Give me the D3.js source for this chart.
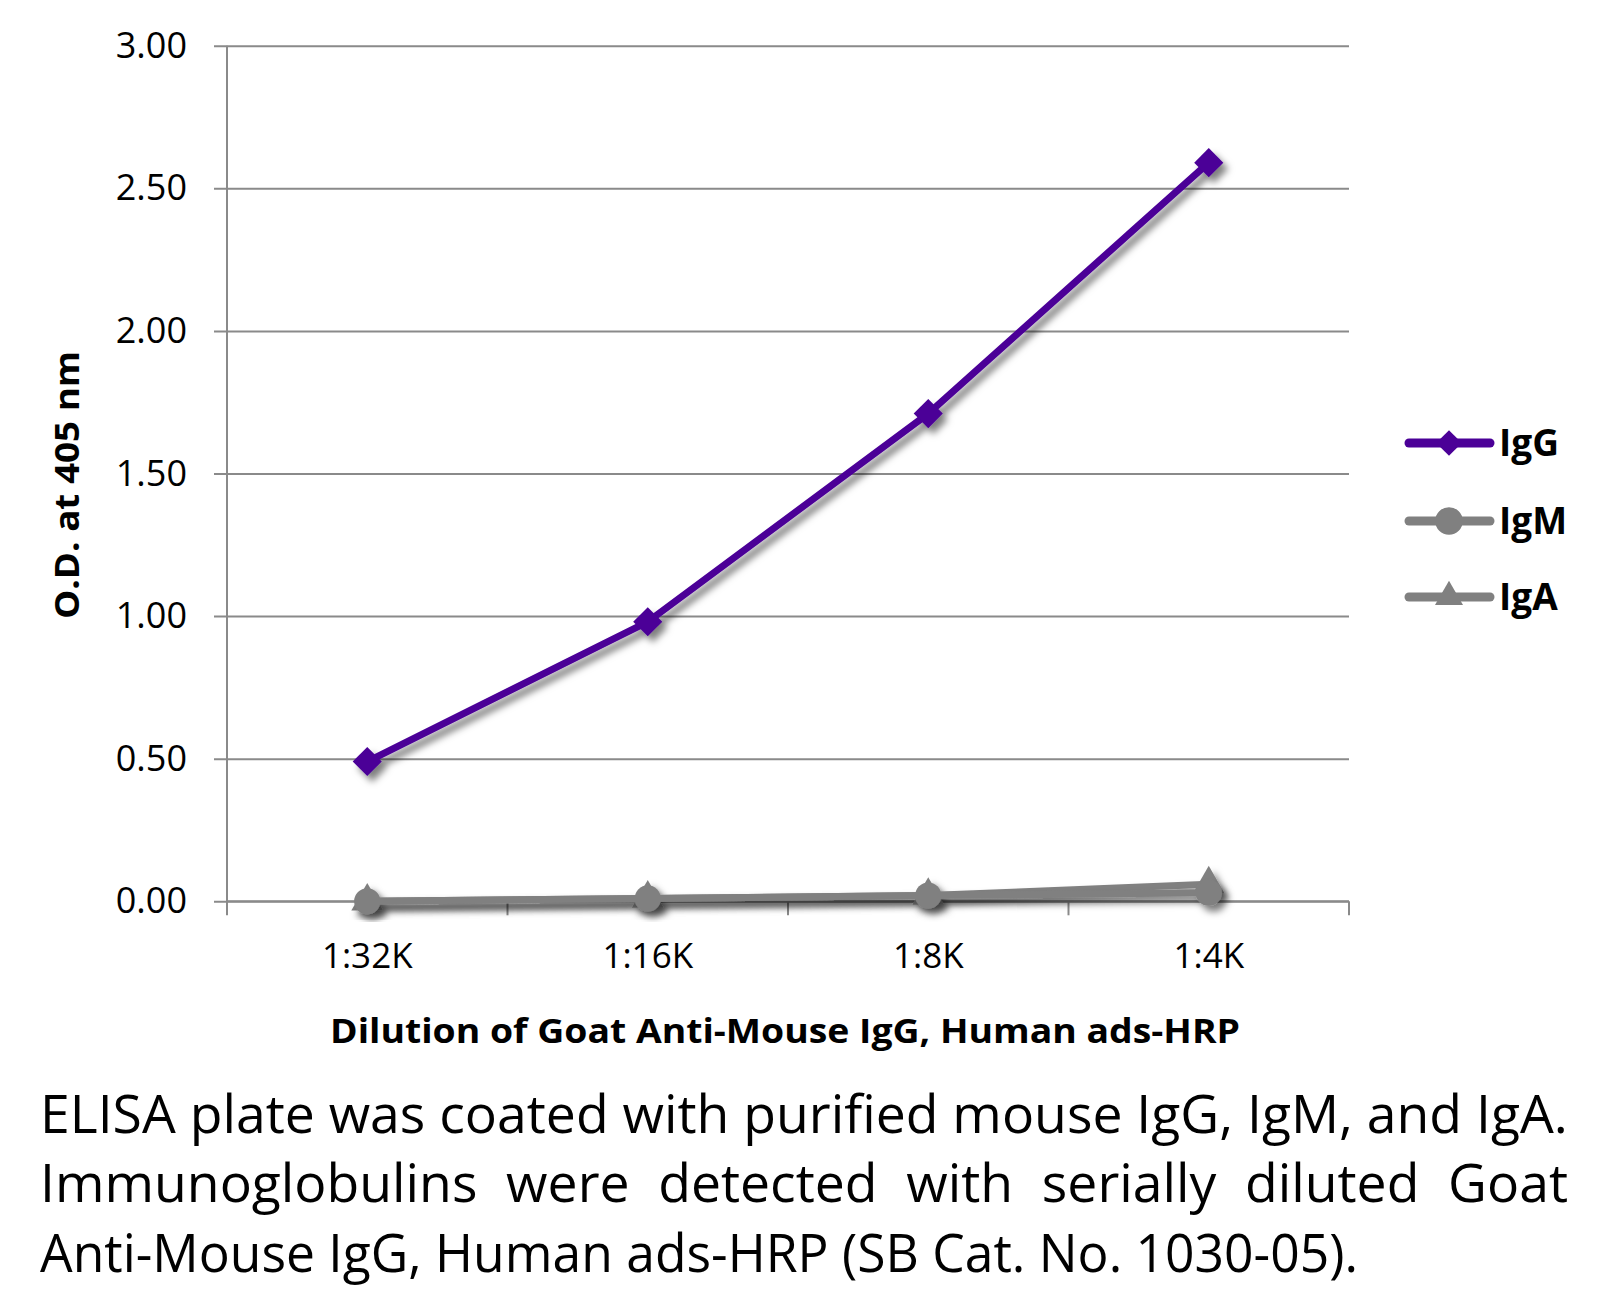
<!DOCTYPE html>
<html>
<head>
<meta charset="utf-8">
<script src="https://cdn.jsdelivr.net/npm/d3@7"></script>
<style>
  html, body { margin: 0; padding: 0; background: #fff; }
  svg { display: block; font-family: "Open Sans", "Noto Sans", sans-serif; }
</style>
</head>
<body>
<svg id="chart" width="1617" height="1306"></svg>
<script>
// ---- data ----
const categories = ["1:32K", "1:16K", "1:8K", "1:4K"];
const seriesNames = ["IgG", "IgM", "IgA"];
const igG = [0.49, 0.98, 1.71, 2.59];
const igM = [0.00, 0.01, 0.02, 0.03];
const igA = [0.00, 0.01, 0.02, 0.06];
const yTicks = [0, 0.5, 1, 1.5, 2, 2.5, 3];
const yTitle = "O.D. at 405 nm";
const xTitle = "Dilution of Goat Anti-Mouse IgG, Human ads-HRP";
const captionLines = [
  "ELISA plate was coated with purified mouse IgG, IgM, and IgA.",
  "Immunoglobulins were detected with serially diluted Goat",
  "Anti-Mouse IgG, Human ads-HRP (SB Cat. No. 1030-05)."
];

(function () {
const series = [
  { name: seriesNames[0], values: igG, color: "#4b0097", symbol: d3.symbolDiamond2 },
  { name: seriesNames[1], values: igM, color: "#808080", symbol: d3.symbolCircle },
  { name: seriesNames[2], values: igA, color: "#808080", symbol: d3.symbolTriangle }
];

const svg = d3.select("#chart");
const pLeft = 227, pRight = 1349, pTop = 45.7, pBottom = 901.3;
const x = d3.scaleBand().domain(categories).range([pLeft, pRight]).padding(0);
const y = d3.scaleLinear().domain([0, 3]).range([pBottom, pTop]);
const cx = c => x(c) + x.bandwidth() / 2;
const gridColor = "#8a8a8a";

// drop shadow filter
const defs = svg.append("defs");
const f = defs.append("filter").attr("id", "shadow")
  .attr("x", "-20%").attr("y", "-20%").attr("width", "140%").attr("height", "140%");
f.append("feDropShadow").attr("dx", 5).attr("dy", 6).attr("stdDeviation", 3.6)
  .attr("flood-color", "#000").attr("flood-opacity", 0.5);

// gridlines + y ticks
const yAxis = d3.axisLeft(y).tickValues(yTicks).tickFormat(d3.format(".2f"))
  .tickSize(-(pRight - pLeft)).tickSizeOuter(0).tickPadding(40);
const gy = svg.append("g").attr("transform", `translate(${pLeft},0)`).call(yAxis);
gy.select(".domain").remove();
gy.selectAll(".tick line").attr("stroke", gridColor).attr("stroke-width", 2).attr("x1", -13);
gy.selectAll(".tick text").attr("font-size", 36).attr("fill", "#000")
  .attr("font-family", "Open Sans").attr("dy", "0.32em");

// y axis line
svg.append("line").attr("x1", pLeft).attr("x2", pLeft).attr("y1", pTop).attr("y2", pBottom)
  .attr("stroke", gridColor).attr("stroke-width", 2);

// x axis
const gx = svg.append("g").attr("transform", `translate(0,${pBottom})`);
gx.append("line").attr("x1", pLeft).attr("x2", pRight).attr("stroke", gridColor).attr("stroke-width", 2);
const bounds = categories.map(c => x(c)).concat([pRight]);
gx.selectAll("line.tk").data(bounds).join("line").attr("class", "tk")
  .attr("x1", d => d).attr("x2", d => d).attr("y1", 0).attr("y2", 14)
  .attr("stroke", gridColor).attr("stroke-width", 2);
gx.selectAll("text").data(categories).join("text")
  .attr("x", d => cx(d)).attr("y", 67).attr("text-anchor", "middle")
  .attr("font-size", 35).attr("fill", "#000").text(d => d);

// series lines and markers
const line = d3.line().x((d, i) => cx(categories[i])).y(d => y(d));
const plot = svg.append("g");
series.slice().reverse().forEach(s => {
  const g = plot.append("g").attr("filter", "url(#shadow)");
  g.append("path").datum(s.values).attr("d", line).attr("fill", "none")
    .attr("stroke", s.color).attr("stroke-width", 7).attr("stroke-linejoin", "round");
  const size = s.symbol === d3.symbolCircle ? 540 : (s.symbol === d3.symbolTriangle ? 440 : 540);
  g.selectAll("path.m").data(s.values).join("path").attr("class", "m")
    .attr("d", d3.symbol().type(s.symbol).size(size))
    .attr("transform", (d, i) => `translate(${cx(categories[i])},${y(d)})`)
    .attr("fill", s.color);
});

// legend
const legY = [443, 521, 597];
const lg = svg.append("g");
series.forEach((s, i) => {
  const g = lg.append("g").attr("transform", `translate(0,${legY[i]})`);
  g.append("line").attr("x1", 1409).attr("x2", 1490).attr("stroke", s.color)
    .attr("stroke-width", 9).attr("stroke-linecap", "round");
  const size = s.symbol === d3.symbolCircle ? 600 : (s.symbol === d3.symbolTriangle ? 340 : 420);
  g.append("path").attr("d", d3.symbol().type(s.symbol).size(size))
    .attr("transform", `translate(1449,0)`)
    .attr("fill", s.color);
  g.append("text").attr("x", 1499).attr("y", 13).attr("font-size", 37)
    .attr("font-weight", 700).attr("fill", "#000").text(s.name);
});

// axis titles
svg.append("text").attr("x", 785).attr("y", 1043).attr("text-anchor", "middle")
  .attr("font-size", 34).attr("font-weight", 700).attr("fill", "#000")
  .attr("textLength", 910).attr("lengthAdjust", "spacingAndGlyphs").text(xTitle);
svg.append("text").attr("transform", "translate(79,485) rotate(-90)")
  .attr("text-anchor", "middle").attr("font-size", 34).attr("font-weight", 700)
  .attr("fill", "#000").attr("textLength", 268).attr("lengthAdjust", "spacingAndGlyphs")
  .text(yTitle);

// caption
const capLeft = 40, capRight = 1568, cap3Right = 1358, capFont = 53;
const baselines = [1133, 1202, 1272];
const cap = svg.append("g");
const tmp = cap.append("text").attr("font-size", capFont).text(captionLines[0]);
const W1 = tmp.node().getComputedTextLength();
tmp.remove();
const k = (capRight - capLeft) / W1;
const cg = cap.append("g").attr("transform", `translate(${capLeft},0) scale(${k},1)`);
cg.append("text").attr("x", 0).attr("y", baselines[0]).attr("font-size", capFont).text(captionLines[0]);
const words = captionLines[1].split(" ");
const ws = words.map(w => {
  const t = cg.append("text").attr("font-size", capFont).text(w);
  const wd = t.node().getComputedTextLength(); t.remove(); return wd;
});
const gap = (W1 - d3.sum(ws)) / (words.length - 1);
let xx = 0;
words.forEach((w, i) => {
  cg.append("text").attr("x", xx).attr("y", baselines[1]).attr("font-size", capFont).text(w);
  xx += ws[i] + gap;
});
cg.append("text").attr("x", 0).attr("y", baselines[2]).attr("font-size", capFont)
  .attr("textLength", (cap3Right - capLeft) / k).attr("lengthAdjust", "spacingAndGlyphs")
  .text(captionLines[2]);
})();
</script>
</body>
</html>
